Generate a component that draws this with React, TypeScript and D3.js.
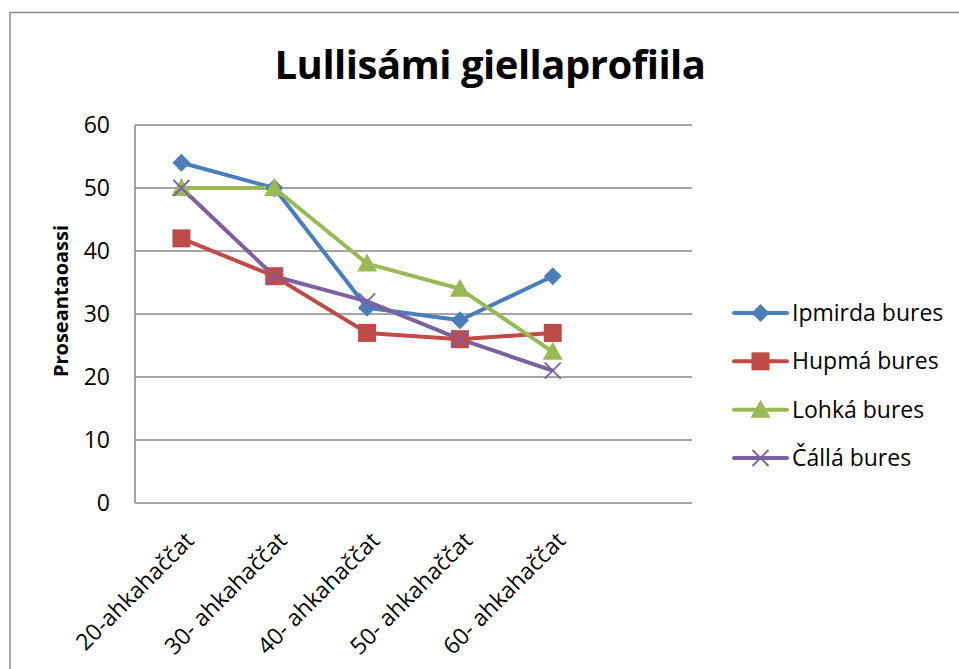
import React from "react";
import * as d3 from "d3";

const categories = [
  "20-ahkahaččat",
  "30- ahkahaččat",
  "40- ahkahaččat",
  "50- ahkahaččat",
  "60- ahkahaččat",
];
// empty sixth slot, as in the original chart
const slots = [...categories, ""];

const seriesNames = ["Ipmirda bures", "Hupmá bures", "Lohká bures", "Čállá bures"];
const ipmirda = [54, 50, 31, 29, 36];
const hupma = [42, 36, 27, 26, 27];
const lohka = [50, 50, 38, 34, 24];
const calla = [50, 36, 32, 26, 21];
const yTicks = [0, 10, 20, 30, 40, 50, 60];

const colors = ["#4A7EBB", "#BE4B48", "#98B954", "#7D60A0"];
const markers = ["diamond", "square", "triangle", "x"];

const font = "'Open Sans', sans-serif";

function Marker({ kind, x, y, color }: { kind: string; x: number; y: number; color: string }) {
  if (kind === "diamond") {
    return <path d={`M${x},${y - 9}L${x + 9},${y}L${x},${y + 9}L${x - 9},${y}Z`} fill={color} />;
  }
  if (kind === "square") {
    return <rect x={x - 9} y={y - 9} width={18} height={18} fill={color} />;
  }
  if (kind === "triangle") {
    return <path d={`M${x},${y - 10}L${x + 10},${y + 8}L${x - 10},${y + 8}Z`} fill={color} />;
  }
  return (
    <path
      d={`M${x - 8},${y - 8}L${x + 8},${y + 8}M${x - 8},${y + 8}L${x + 8},${y - 8}`}
      stroke={color}
      strokeWidth={1.8}
    />
  );
}

export default function App() {
  const width = 959;
  const height = 669;
  const series = [ipmirda, hupma, lohka, calla];

  const x = d3.scaleBand().domain(slots).range([135, 692]);
  const y = d3.scaleLinear().domain([0, 60]).range([503, 125]);
  const cx = (c: string) => (x(c) as number) + x.bandwidth() / 2;

  const line = d3
    .line<number>()
    .x((_, i) => cx(categories[i]))
    .y((d) => y(d));

  const legendY = d3.scalePoint().domain(seriesNames).range([313, 458]);

  return (
    <svg
      width={width}
      height={height}
      style={{ position: "absolute", left: 0, top: 0, background: "#fff" }}
    >
      <rect x={10} y={12.5} width={980} height={700} fill="#fff" stroke="#898989" strokeWidth={1.5} />

      <text
        x={490}
        y={79}
        textAnchor="middle"
        fontFamily={font}
        fontWeight="bold"
        fontSize={40}
        letterSpacing={-0.5}
      >
        Lullisámi giellaprofiila
      </text>

      {/* gridlines */}
      {yTicks.map((t) => (
        <line
          key={t}
          x1={135}
          x2={692}
          y1={y(t)}
          y2={y(t)}
          stroke="#878787"
          strokeWidth={1.5}
        />
      ))}
      <line x1={135} x2={135} y1={125} y2={503} stroke="#878787" strokeWidth={1.5} />

      {yTicks.map((t) => (
        <text
          key={t}
          x={110}
          y={y(t)}
          dy="0.35em"
          textAnchor="end"
          fontFamily={font}
          fontSize={23}
        >
          {t}
        </text>
      ))}

      <text
        transform={`translate(68,301) rotate(-90)`}
        textAnchor="middle"
        fontFamily={font}
        fontWeight="bold"
        fontSize={20}
      >
        Proseantaoassi
      </text>

      {categories.map((c) => (
        <text
          key={c}
          transform={`translate(${cx(c) + 14},${542}) rotate(-45)`}
          textAnchor="end"
          fontFamily={font}
          fontSize={23}
        >
          {c}
        </text>
      ))}

      {series.map((s, i) => (
        <path
          key={i}
          d={line(s) || ""}
          fill="none"
          stroke={colors[i]}
          strokeWidth={4}
          strokeLinejoin="round"
        />
      ))}
      {series.map((s, i) =>
        s.map((v, j) => (
          <Marker key={`${i}-${j}`} kind={markers[i]} x={cx(categories[j])} y={y(v)} color={colors[i]} />
        ))
      )}

      {seriesNames.map((n, i) => {
        const ly = legendY(n) as number;
        return (
          <g key={n}>
            <line x1={734} x2={787} y1={ly} y2={ly} stroke={colors[i]} strokeWidth={4} strokeLinecap="round" />
            <Marker kind={markers[i]} x={760.5} y={ly} color={colors[i]} />
            <text x={792} y={ly} dy="0.35em" fontFamily={font} fontSize={23}>
              {n}
            </text>
          </g>
        );
      })}
    </svg>
  );
}
